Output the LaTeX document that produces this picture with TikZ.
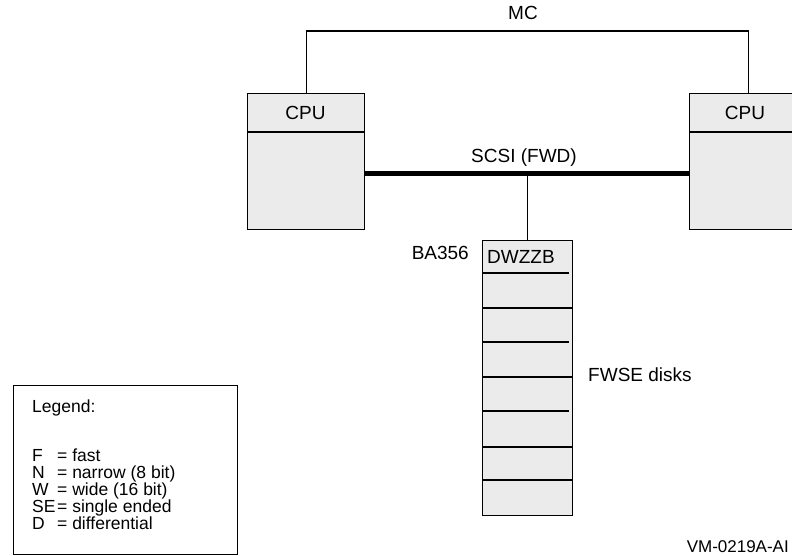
\documentclass[tikz,border=0pt]{standalone}
\usepackage{fontspec}
\setmainfont{Liberation Sans}
\definecolor{boxgray}{HTML}{EBEBEB}
\begin{document}
\begin{tikzpicture}[x=1pt,y=-1pt,
  font=\fontsize{19}{22}\selectfont,
  unitbox/.style={draw=black, fill=boxgray, line width=1.3pt, inner sep=0pt, anchor=north west},
  divline/.style={line width=1.3pt},
  wire/.style={line width=1.1pt},
  bus/.style={line width=5pt},
  lbl/.style={inner sep=0pt},
  leglbl/.style={inner sep=0pt, anchor=base west, text height=12pt, text depth=3pt,
    font=\fontsize{17.5}{20}\selectfont}]
\useasboundingbox (0,0) rectangle (792,556);

% CPU boxes
\node[unitbox, minimum width=117pt, minimum height=136pt] (cpuL) at (247,93) {};
\node[unitbox, minimum width=117pt, minimum height=136pt] (cpuR) at (689,93) {};
\draw[divline] (247,132) -- (364,132);
\draw[divline] (689,132) -- (806,132);
\node[lbl] (cpuLt) at (305.5,113) {CPU};
\node[lbl] (cpuRt) at (745,113) {CPU};

% MC link
\coordinate (mcY) at (0,31);
\draw[wire] (cpuL.north) |- (mcY -| cpuR.north) -- (cpuR.north);
\node[lbl] (mc) at (523,13) {MC};

% SCSI bus
\coordinate (scsiY) at (0,174);
\draw[bus] (cpuL.east |- scsiY) -- (cpuR.west |- scsiY);
\node[lbl] (scsi) at (524,158) {SCSI (FWD)};

% BA356
\node[unitbox, minimum width=90pt, minimum height=275pt] (ba) at (482,240) {};
\draw[wire] (ba.north) -- (ba.north |- scsiY);
\foreach \yy/\xe in {273/569, 308/572, 342/569, 377/572, 411/569, 447/572, 480/572}
  \draw[divline] (482,\yy) -- (\xe,\yy);
\node[lbl, anchor=west] (dw) at (487,257) {DWZZB};
\node[lbl, anchor=east] (bal) at (469,253) {BA356};
\node[lbl, anchor=west] (fwse) at (588,375) {FWSE disks};

% Legend
\node[draw=black, line width=1.1pt, minimum width=224pt, minimum height=169pt, inner sep=0pt, anchor=north west] (leg) at (13,385) {};
\node[leglbl] (legt) at (32,412) {Legend:};
\foreach \k/\txt/\yy in {F/fast/461, N/narrow (8 bit)/478, W/wide (16 bit)/495, SE/single ended/512, D/differential/529}{
  \node[leglbl] at (32,\yy) {\k};
  \node[leglbl] at (57,\yy) {= \txt};
}

\node[lbl, anchor=base east, font=\fontsize{17}{19}\selectfont] (vm) at (789,552) {VM-0219A-AI};
\end{tikzpicture}
\end{document}
